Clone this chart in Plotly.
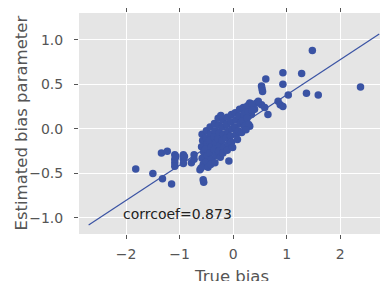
import plotly.graph_objects as go

# (true bias, estimated bias)
true_bias = [
    -1.82, -1.50, -1.32, -1.15, -1.34, -1.23,
    -1.09, -1.09, -1.09, -1.09, -1.07,
    -0.93, -0.93, -0.93, -0.91,
    -0.78, -0.73, -0.73, -0.62,
    -0.56, -0.55, -0.50,
    0.53, 0.54, 0.55, 0.61, 0.65, 0.84, 0.88, 0.93, 0.93, 0.93, 1.03, 1.28, 1.37, 1.48, 1.59, 2.38,
    0.44, 0.53, 0.59, 0.31, 0.34, 0.31, 0.40, 0.47,
    -0.58, -0.57, -0.59, -0.55, -0.58, -0.56, -0.60,
    -0.50, -0.51, -0.49, -0.52, -0.48, -0.50, -0.47,
    -0.43, -0.42, -0.44, -0.41, -0.43, -0.40, -0.42,
    -0.35, -0.34, -0.36, -0.33, -0.35, -0.32, -0.34,
    -0.28, -0.27, -0.26, -0.28, -0.25, -0.27, -0.24,
    -0.19, -0.20, -0.18, -0.21, -0.17, -0.19,
    -0.11, -0.12, -0.10, -0.13, -0.09, -0.11, -0.08,
    -0.03, -0.04, -0.02, -0.05, -0.03, -0.01,
    0.04, 0.05, 0.03, 0.06,
    0.12, 0.11, 0.13, 0.10,
    0.19, 0.20, 0.18, 0.21,
    0.27, 0.28, 0.26, 0.29,
    0.35, 0.36,
    -0.23, 0.08, 0.16, 0.24,
]
estimated_bias = [
    -0.45, -0.50, -0.56, -0.62, -0.27, -0.25,
    -0.29, -0.34, -0.38, -0.42, -0.31,
    -0.29, -0.34, -0.39, -0.31,
    -0.38, -0.29, -0.34, -0.46,
    -0.57, -0.60, -0.42,
    0.48, 0.45, 0.42, 0.56, 0.16, 0.31, 0.27, 0.25, 0.63, 0.50, 0.38, 0.62, 0.40, 0.88, 0.38, 0.47,
    0.29, 0.27, 0.24, 0.29, 0.16, 0.03, 0.22, 0.31,
    -0.06, -0.13, -0.20, -0.26, -0.33, -0.40, -0.44,
    -0.02, -0.10, -0.17, -0.23, -0.30, -0.37, -0.43,
    0.02, -0.06, -0.13, -0.20, -0.27, -0.34, -0.40,
    0.06, -0.02, -0.09, -0.16, -0.23, -0.30, -0.38,
    0.12, 0.04, -0.04, -0.11, -0.18, -0.25, -0.32,
    0.10, 0.02, -0.06, -0.13, -0.20, -0.27,
    0.13, 0.05, -0.03, -0.10, -0.17, -0.24, -0.36,
    0.16, 0.08, 0.00, -0.08, -0.15, -0.21,
    0.18, 0.10, 0.02, -0.06,
    0.22, 0.14, 0.06, -0.02,
    0.24, 0.16, 0.09, 0.03,
    0.26, 0.19, 0.12, 0.05,
    0.28, 0.21,
    0.15, -0.12, -0.04, -0.01,
]
fit_x = [-2.70, 2.73]
fit_y = [-1.08, 1.065]
corr_label = "corrcoef=0.873"
x_title = "True bias"
y_title = "Estimated bias parameter"

blue = "#3A53A4"
grey = "#555555"

fig = go.Figure()
fig.add_trace(go.Scatter(x=fit_x, y=fit_y, mode="lines",
                         line=dict(color=blue, width=1.2), showlegend=False))
fig.add_trace(go.Scatter(x=true_bias, y=estimated_bias, mode="markers",
                         marker=dict(color=blue, size=7.5, line=dict(width=0)),
                         showlegend=False))
fig.add_annotation(x=-2.09, y=-0.95, text=corr_label, showarrow=False,
                   xanchor="left", yanchor="middle",
                   font=dict(size=14, color="#222222"))
# axis titles
fig.add_annotation(xref="paper", yref="paper", x=0.5, y=0, yshift=-31,
                   text=x_title, showarrow=False, xanchor="center", yanchor="top",
                   font=dict(size=16.5, color=grey))
fig.add_annotation(xref="paper", yref="paper", x=0, y=0.5, xshift=-58,
                   text=y_title, showarrow=False, textangle=-90,
                   xanchor="center", yanchor="middle",
                   font=dict(size=16.5, color=grey))

axis_common = dict(showgrid=True, gridcolor="white", gridwidth=1,
                   zeroline=False, ticks="outside", ticklen=4, tickwidth=1,
                   tickcolor=grey, mirror="ticks", showline=False,
                   automargin=False,
                   tickfont=dict(size=14, color=grey))
fig.update_xaxes(range=[-2.88, 2.80], tickvals=[-2, -1, 0, 1, 2],
                 ticktext=["\u22122", "\u22121", "0", "1", "2"],
                 ticklabelstandoff=3,
                 **axis_common)
fig.update_yaxes(range=[-1.18, 1.30], tickvals=[-1.0, -0.5, 0.0, 0.5, 1.0],
                 ticktext=["\u22121.0", "\u22120.5", "0.0", "0.5", "1.0"],
                 ticklabelstandoff=8,
                 **axis_common)
# the page body adds an 8px offset; margins compensate so the plot area lands where the reference has it
fig.update_layout(width=388, height=281, margin=dict(l=71, r=13, t=5, b=55),
                  plot_bgcolor="#E5E5E5", paper_bgcolor="white",
                  font=dict(family="DejaVu Sans"))
fig.write_html("out.html")
